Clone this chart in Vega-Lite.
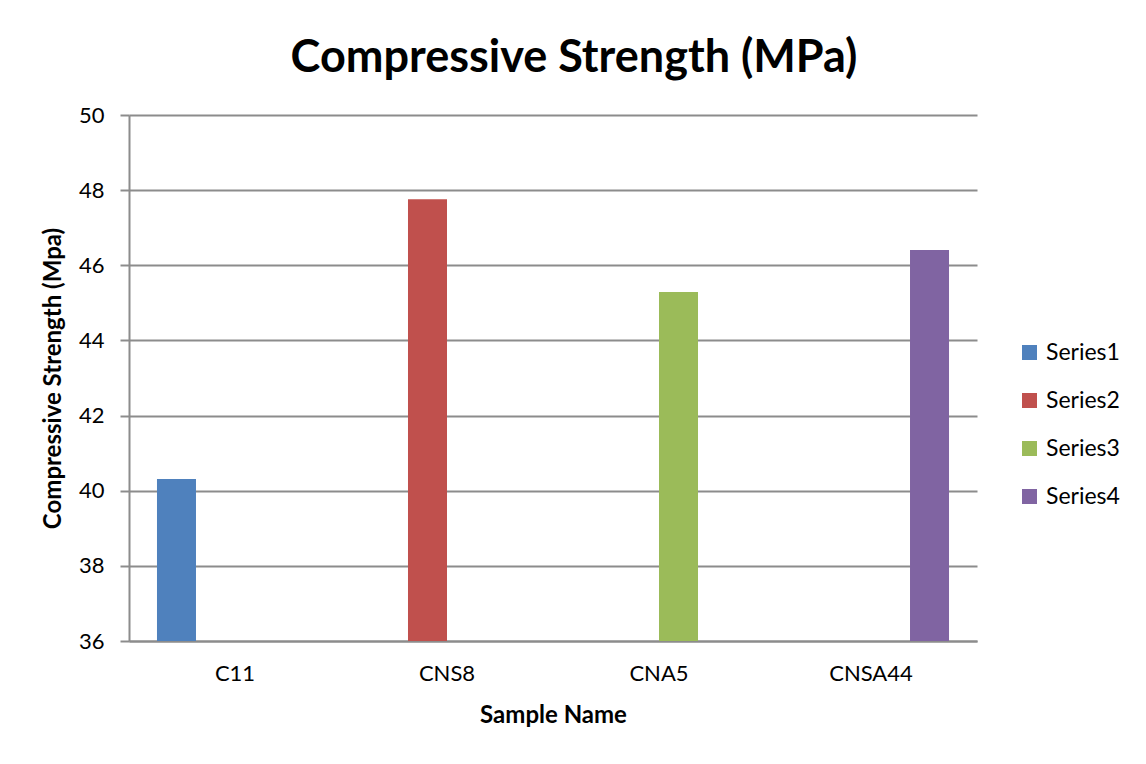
{
  "$schema": "https://vega.github.io/schema/vega-lite/v6.json",
  "autosize": "none",
  "width": 848,
  "height": 526,
  "padding": {"left": 129, "top": 115, "right": 169, "bottom": 123},
  "background": "white",
  "title": {
    "text": "Compressive Strength (MPa)",
    "font": "Lato",
    "fontSize": 45,
    "fontWeight": "bold",
    "color": "black",
    "anchor": "middle",
    "dx": 21,
    "baseline": "alphabetic",
    "offset": -13
  },
  "data": {
    "values": [
      {"Sample": "C11", "Series": "Series1", "Strength": 40.31},
      {"Sample": "CNS8", "Series": "Series2", "Strength": 47.76},
      {"Sample": "CNA5", "Series": "Series3", "Strength": 45.29},
      {"Sample": "CNSA44", "Series": "Series4", "Strength": 46.41}
    ]
  },
  "mark": {"type": "bar", "cornerRadius": 0},
  "encoding": {
    "x": {
      "field": "Sample",
      "type": "nominal",
      "sort": ["C11", "CNS8", "CNA5", "CNSA44"],
      "scale": {"paddingInner": 0.264, "paddingOuter": 0.132},
      "axis": {
        "title": "Sample Name",
        "labelAngle": 0,
        "ticks": false,
        "labelPadding": 22,
        "titlePadding": 19,
        "domainColor": "#8c8c8c",
        "domainWidth": 2
      }
    },
    "xOffset": {
      "field": "Series",
      "type": "nominal",
      "sort": ["Series1", "Series2", "Series3", "Series4"],
      "scale": {"paddingInner": 0, "paddingOuter": 0}
    },
    "y": {
      "field": "Strength",
      "type": "quantitative",
      "scale": {"domain": [36, 50], "nice": false, "zero": false},
      "axis": {
        "title": "Compressive Strength (Mpa)",
        "values": [36, 38, 40, 42, 44, 46, 48, 50],
        "grid": true,
        "gridColor": "#8c8c8c",
        "gridWidth": 2,
        "tickColor": "#8c8c8c",
        "tickWidth": 2,
        "tickSize": 9,
        "labelPadding": 16,
        "titlePadding": 13,
        "domainColor": "#8c8c8c",
        "domainWidth": 2
      }
    },
    "y2": {"datum": 36},
    "color": {
      "field": "Series",
      "type": "nominal",
      "scale": {
        "domain": ["Series1", "Series2", "Series3", "Series4"],
        "range": ["#4F81BD", "#C0504D", "#9BBB59", "#8064A2"]
      },
      "legend": {
        "title": null,
        "orient": "none",
        "legendX": 889,
        "legendY": 226,
        "padding": 0,
        "symbolType": "square",
        "symbolSize": 225,
        "symbolStrokeWidth": 0,
        "labelFont": "Lato",
        "labelFontSize": 23,
        "labelColor": "black",
        "labelOffset": 5,
        "rowPadding": 24
      }
    }
  },
  "config": {
    "view": {"stroke": null},
    "axis": {
      "labelFont": "Lato",
      "labelFontSize": 22,
      "labelColor": "black",
      "titleFont": "Lato",
      "titleFontSize": 24,
      "titleFontWeight": "bold",
      "titleColor": "black"
    }
  }
}
